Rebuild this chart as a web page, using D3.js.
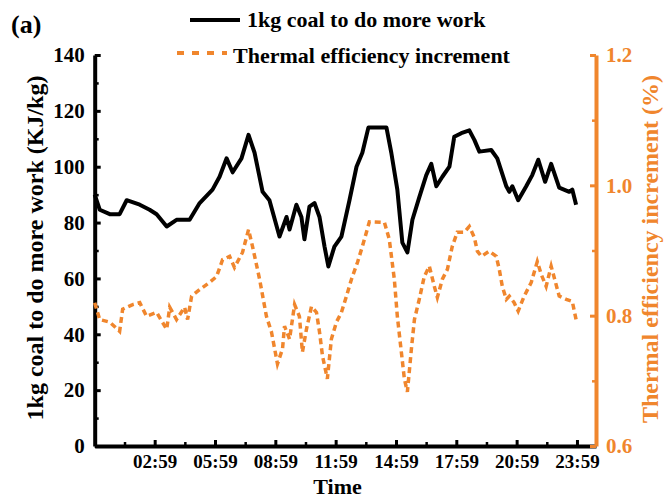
<!DOCTYPE html>
<html>
<head>
<meta charset="utf-8">
<script src="https://cdn.jsdelivr.net/npm/d3@7"></script>
<style>
body { margin: 0; background: #fff; }
svg { font-family: 'Liberation Serif', 'Times New Roman', serif; font-weight: bold; }
</style>
</head>
<body>
<svg width="664" height="500"></svg>
<script>
const w = 664;
const h = 500;
const orange = '#f0862d';

// time in hours since 00:00
const workHours = [0, 0.25, 0.75, 1.24, 1.59, 2.24, 2.73, 3.08, 3.58, 4.07, 4.72, 5.22, 5.86, 6.21, 6.56, 6.86, 7.3, 7.65, 7.95, 8.35, 8.69, 9.19, 9.54, 9.69, 10.03, 10.28, 10.43, 10.68, 10.93, 11.18, 11.43, 11.62, 11.92, 12.27, 12.67, 13.02, 13.31, 13.61, 14.51, 14.75, 15.05, 15.3, 15.55, 15.8, 16.14, 16.49, 16.74, 16.99, 17.29, 17.64, 17.88, 18.23, 18.63, 18.88, 19.13, 19.72, 20.02, 20.47, 20.62, 20.77, 21.06, 21.46, 21.76, 22.06, 22.4, 22.7, 23.1, 23.6, 23.75, 23.94];
const workValues = [90, 84.6, 83, 83, 88, 86.4, 84.6, 83, 78.6, 81, 81, 87, 91.8, 96.4, 103, 98, 103, 111.4, 105, 91, 88, 75, 82, 77.5, 86.4, 82, 74, 85.7, 87, 82, 71.4, 64.3, 71.4, 75, 88, 100, 105, 114, 114, 105, 91.8, 72.8, 69.3, 81, 89, 97, 101, 93, 96.4, 100, 110.7, 112, 113, 109.6, 105.4, 106, 103, 93, 91, 93, 88, 93, 97, 102.5, 94.6, 101, 92.5, 91, 91.8, 86.4];

const effHours = [0, 0.25, 0.75, 1.24, 1.39, 1.89, 2.24, 2.58, 3.08, 3.58, 3.73, 4.07, 4.47, 4.62, 4.82, 5.22, 5.71, 6.06, 6.36, 6.71, 6.95, 7.35, 7.65, 7.85, 8.2, 8.54, 8.79, 9.09, 9.34, 9.44, 9.69, 9.94, 10.18, 10.33, 10.53, 10.78, 11.03, 11.18, 11.33, 11.57, 11.77, 12.02, 12.27, 12.52, 12.77, 13.07, 13.31, 13.66, 14.41, 14.65, 14.9, 15.05, 15.25, 15.4, 15.55, 15.75, 15.9, 16.14, 16.39, 16.64, 16.89, 17.04, 17.29, 17.54, 17.78, 18.03, 18.38, 18.63, 18.88, 19.03, 19.23, 19.62, 19.97, 20.12, 20.27, 20.47, 20.62, 20.86, 21.06, 21.36, 21.71, 22.01, 22.21, 22.45, 22.7, 23.1, 23.45, 23.75, 23.94];
const effValues = [0.82, 0.794, 0.79, 0.776, 0.81, 0.817, 0.82, 0.799, 0.805, 0.779, 0.813, 0.794, 0.813, 0.794, 0.83, 0.84, 0.851, 0.86, 0.886, 0.891, 0.874, 0.897, 0.932, 0.906, 0.856, 0.799, 0.775, 0.726, 0.749, 0.784, 0.764, 0.817, 0.799, 0.744, 0.779, 0.814, 0.805, 0.775, 0.738, 0.703, 0.764, 0.79, 0.805, 0.83, 0.856, 0.882, 0.906, 0.944, 0.943, 0.917, 0.856, 0.799, 0.744, 0.703, 0.683, 0.749, 0.794, 0.825, 0.86, 0.876, 0.845, 0.828, 0.856, 0.871, 0.906, 0.928, 0.928, 0.937, 0.92, 0.899, 0.891, 0.899, 0.891, 0.871, 0.845, 0.825, 0.83, 0.82, 0.807, 0.83, 0.851, 0.883, 0.863, 0.845, 0.876, 0.83, 0.825, 0.822, 0.794];

const xTickHours = [2.983, 5.983, 8.983, 11.983, 14.983, 17.983, 20.983, 23.983];
const xTickLabels = ['02:59', '05:59', '08:59', '11:59', '14:59', '17:59', '20:59', '23:59'];
const leftTicks = [0, 20, 40, 60, 80, 100, 120, 140];
const rightTicks = [0.6, 0.8, 1.0, 1.2];

const padLeft = 94.7, padRight = 596, padTop = 55, padBottom = 446;

let canvas = d3.select('svg');

const xScale = d3.scaleLinear().domain([0, 24.93]).range([padLeft, padRight]);
const yScale = d3.scaleLinear().domain([0, 140]).range([padBottom, padTop]);
const y2Scale = d3.scaleLinear().domain([0.6, 1.2]).range([padBottom, padTop]);

// minor ticks
const xMinor = xTickHours.map((d) => d - 1.5);
const leftMinor = d3.range(10, 140, 20);
const rightMinor = [0.7, 0.9, 1.1];

const styleAxis = (g, color, size) => {
	g.select('.domain').attr('stroke', color).attr('stroke-width', 4);
	g.selectAll('.tick line').attr('stroke', color).attr('stroke-width', 3);
	g.selectAll('.tick text')
		.attr('fill', color)
		.attr('font-size', size)
		.attr('font-family', "'Liberation Serif', serif")
		.attr('font-weight', 'bold');
};

const minorTicks = (g, color) => {
	g.select('.domain').remove();
	g.selectAll('.tick line').attr('stroke', color).attr('stroke-width', 2.5);
};

// bottom axis
const xAxis = d3
	.axisBottom(xScale)
	.tickValues(xTickHours)
	.tickFormat((d, i) => xTickLabels[i])
	.tickSizeInner(-6)
	.tickSizeOuter(0)
	.tickPadding(8.5);
canvas
	.append('g')
	.attr('transform', `translate(0,${padBottom})`)
	.call(d3.axisBottom(xScale).tickValues(xMinor).tickFormat('').tickSizeInner(-4).tickSizeOuter(0))
	.call((g) => minorTicks(g, '#000'));
canvas
	.append('g')
	.attr('id', 'x-axis')
	.attr('transform', `translate(0,${padBottom})`)
	.call(xAxis)
	.call((g) => styleAxis(g, '#000', '19px'));

// left axis
const yAxis = d3.axisLeft(yScale).tickValues(leftTicks).tickSizeInner(-6).tickSizeOuter(0).tickPadding(10);
canvas
	.append('g')
	.attr('transform', `translate(${padLeft},0)`)
	.call(d3.axisLeft(yScale).tickValues(leftMinor).tickFormat('').tickSizeInner(-4).tickSizeOuter(0))
	.call((g) => minorTicks(g, '#000'));
canvas
	.append('g')
	.attr('id', 'y-axis')
	.attr('transform', `translate(${padLeft},0)`)
	.call(yAxis)
	.call((g) => styleAxis(g, '#000', '21px'));

// right axis
const y2Axis = d3
	.axisRight(y2Scale)
	.tickValues(rightTicks)
	.tickFormat(d3.format('.1f'))
	.tickSizeInner(-6)
	.tickSizeOuter(0)
	.tickPadding(10);
canvas
	.append('g')
	.attr('transform', `translate(${padRight},0)`)
	.call(d3.axisRight(y2Scale).tickValues(rightMinor).tickFormat('').tickSizeInner(-4).tickSizeOuter(0))
	.call((g) => minorTicks(g, orange));
canvas
	.append('g')
	.attr('id', 'y2-axis')
	.attr('transform', `translate(${padRight},0)`)
	.call(y2Axis)
	.call((g) => styleAxis(g, orange, '21px'));

// lines
const effLine = d3
	.line()
	.x((d, i) => xScale(effHours[i]))
	.y((d) => y2Scale(d));
canvas
	.append('path')
	.attr('d', effLine(effValues))
	.attr('fill', 'none')
	.attr('stroke', orange)
	.attr('stroke-width', 3.5)
	.attr('stroke-dasharray', '6,4');

const workLine = d3
	.line()
	.x((d, i) => xScale(workHours[i]))
	.y((d) => yScale(d));
canvas
	.append('path')
	.attr('d', workLine(workValues))
	.attr('fill', 'none')
	.attr('stroke', '#000')
	.attr('stroke-width', 4)
	.attr('stroke-linejoin', 'round');

// titles
canvas.append('text').attr('x', 11).attr('y', 33).attr('font-size', '26px').text('(a)');
canvas
	.append('text')
	.attr('x', 337.5)
	.attr('y', 494)
	.attr('text-anchor', 'middle')
	.attr('font-size', '22px')
	.text('Time');
canvas
	.append('text')
	.attr('text-anchor', 'middle')
	.attr('font-size', '24px')
	.attr('transform', `translate(43,248) rotate(-90)`)
	.text('1kg coal to do more work (KJ/kg)');
canvas
	.append('text')
	.attr('text-anchor', 'middle')
	.attr('font-size', '24px')
	.attr('fill', orange)
	.attr('transform', `translate(658,249) rotate(-90)`)
	.text('Thermal efficiency increment (%)');

// legend
const legend = canvas.append('g');
legend.append('line').attr('x1', 190).attr('x2', 240).attr('y1', 20).attr('y2', 20).attr('stroke', '#000').attr('stroke-width', 4);
legend.append('text').attr('x', 247).attr('y', 27).attr('font-size', '22px').text('1kg coal to do more work');
legend
	.append('line')
	.attr('x1', 177)
	.attr('x2', 227)
	.attr('y1', 53)
	.attr('y2', 53)
	.attr('stroke', orange)
	.attr('stroke-width', 4)
	.attr('stroke-dasharray', '7,8');
legend.append('text').attr('x', 233).attr('y', 63).attr('font-size', '22px').text('Thermal efficiency increment');
</script>
</body>
</html>
